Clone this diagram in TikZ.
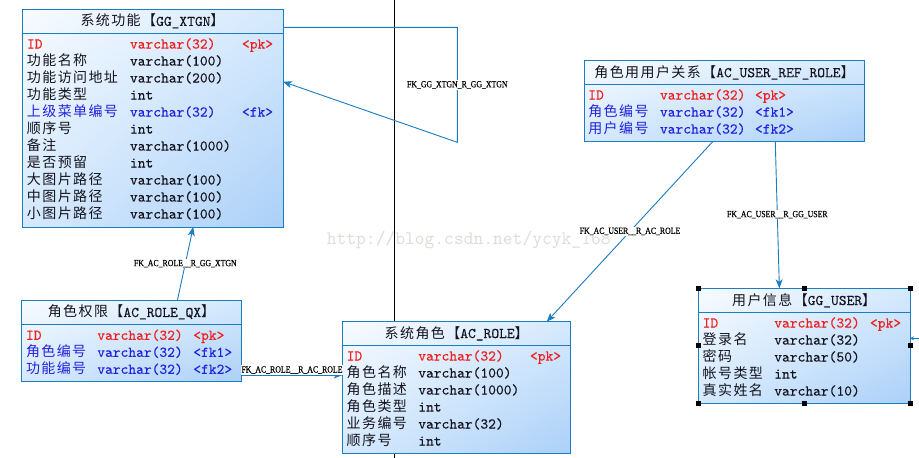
\documentclass[tikz,border=0pt]{standalone}
\usepackage{fontspec}
\newfontfamily\cjk[LetterSpace=10]{Noto Sans CJK SC}
\newfontfamily\lblfont[FakeBold=0.5]{Liberation Serif}
\newfontfamily\lmm[FakeBold=0.3]{lmmono10-regular.otf}
\usetikzlibrary{arrows.meta,calc,backgrounds,shadings}
\definecolor{bdr}{HTML}{1A7DC0}
\definecolor{shA}{HTML}{F7FBFF}
\definecolor{shB}{HTML}{D5E9FD}
\definecolor{shC}{HTML}{ABD0F8}
\definecolor{pkred}{HTML}{F01E1E}
\definecolor{fkblue}{HTML}{2222E0}
\definecolor{txt}{HTML}{14141E}
\definecolor{wmgray}{HTML}{DCDCD8}
\newcommand\mon{\fontsize{14.8}{17}\selectfont\lmm}
\newcommand\lbl[1]{\scalebox{1}[1.2]{#1}}
\tikzset{
  tablebox/.style={draw=bdr, line width=1pt, shade, upper left=shA, upper right=shB,
    lower left=shB, lower right=shC, anchor=north west, inner sep=0pt, outer sep=0pt},
  hdrline/.style={draw=bdr, line width=1pt},
  titletext/.style={inner sep=0pt, font=\fontsize{14}{16}\selectfont, text=txt},
  cell/.style={anchor=base west, inner sep=0pt, outer sep=0pt, font=\fontsize{14}{16}\selectfont},
  conn/.style={draw=bdr, line width=0.9pt, -{Stealth[length=9pt,width=7pt,inset=2.5pt]}},
  fklabel/.style={fill=white, inner sep=1pt, font=\lblfont\fontsize{7.8}{9}\selectfont, text=black},
  handle/.style={fill=black, minimum size=5pt, inner sep=0pt, outer sep=0pt},
  wmtext/.style={inner sep=0pt, font=\fontsize{19}{21}\selectfont\ttfamily, text=wmgray}
}
\newcommand\mktable[7]{%
  \node[tablebox, minimum width=#4pt, minimum height=#5pt] (#1) at (#2,#3) {};
  \draw[hdrline] ($(#1.north west)+(0,#6)$) -- ($(#1.north east)+(0,#6)$);
  \node[titletext] (#1T) at ($(#1.north)+(0,#6/2)$) {#7};
}
\newcommand\fld[6]{%
  \node[cell,text=#3] (#1n) at (\cxa,#2) {#4};
  \node[cell,text=#3] (#1t) at (\cxb,#2) {\mon #5};
  \node[cell,text=#3] (#1k) at (\cxc,#2) {\mon #6};
}
\begin{document}
\begin{tikzpicture}[x=1pt,y=-1pt]
\useasboundingbox (0,0) rectangle (919,458);

% ---------- tables ----------
\mktable{xtgn}{22}{9.5}{261}{217.5}{23.5}{{\cjk 系统功能【}{\mon GG\_XTGN}{\cjk 】}}
\def\cxa{27}\def\cxb{130}\def\cxc{242}
\fld{xtgn1}{48.5}{pkred}{{\mon ID}}{varchar(32)}{<pk>}
\fld{xtgn2}{65.5}{txt}{{\cjk 功能名称}}{varchar(100)}{}
\fld{xtgn3}{82.5}{txt}{{\cjk 功能访问地址}}{varchar(200)}{}
\fld{xtgn4}{99.5}{txt}{{\cjk 功能类型}}{int}{}
\fld{xtgn5}{116.5}{fkblue}{{\cjk 上级菜单编号}}{varchar(32)}{<fk>}
\fld{xtgn6}{133.5}{txt}{{\cjk 顺序号}}{int}{}
\fld{xtgn7}{150.5}{txt}{{\cjk 备注}}{varchar(1000)}{}
\fld{xtgn8}{167.5}{txt}{{\cjk 是否预留}}{int}{}
\fld{xtgn9}{184.5}{txt}{{\cjk 大图片路径}}{varchar(100)}{}
\fld{xtgn10}{201.5}{txt}{{\cjk 中图片路径}}{varchar(100)}{}
\fld{xtgn11}{218.5}{txt}{{\cjk 小图片路径}}{varchar(100)}{}

\mktable{ref}{584.3}{60.7}{280.4}{80.3}{23.6}{{\cjk 角色用用户关系【}{\mon AC\_USER\_REF\_ROLE}{\cjk 】}}
\def\cxa{588.3}\def\cxb{660}\def\cxc{755}
\fld{ref1}{99.5}{pkred}{{\mon ID}}{varchar(32)}{<pk>}
\fld{ref2}{116.5}{fkblue}{{\cjk 角色编号}}{varchar(32)}{<fk1>}
\fld{ref3}{133.5}{fkblue}{{\cjk 用户编号}}{varchar(32)}{<fk2>}

\mktable{qx}{21.7}{300.3}{219.6}{81}{24}{{\cjk 角色权限【}{\mon AC\_ROLE\_QX}{\cjk 】}}
\def\cxa{26}\def\cxb{97.3}\def\cxc{193.3}
\fld{qx1}{339.8}{pkred}{{\mon ID}}{varchar(32)}{<pk>}
\fld{qx2}{356.8}{fkblue}{{\cjk 角色编号}}{varchar(32)}{<fk1>}
\fld{qx3}{373.8}{fkblue}{{\cjk 功能编号}}{varchar(32)}{<fk2>}

\mktable{role}{342.7}{321.7}{228}{131.6}{23.3}{{\cjk 系统角色【}{\mon AC\_ROLE}{\cjk 】}}
\def\cxa{346.7}\def\cxb{418.3}\def\cxc{530}
\fld{role1}{360.5}{pkred}{{\mon ID}}{varchar(32)}{<pk>}
\fld{role2}{377.5}{txt}{{\cjk 角色名称}}{varchar(100)}{}
\fld{role3}{394.5}{txt}{{\cjk 角色描述}}{varchar(1000)}{}
\fld{role4}{411.5}{txt}{{\cjk 角色类型}}{int}{}
\fld{role5}{428.5}{txt}{{\cjk 业务编号}}{varchar(32)}{}
\fld{role6}{445.5}{txt}{{\cjk 顺序号}}{int}{}

\mktable{user}{698.3}{288.3}{211.7}{115}{24}{{\cjk 用户信息【}{\mon GG\_USER}{\cjk 】}}
\def\cxa{702.7}\def\cxb{774.3}\def\cxc{870}
\fld{user1}{327.5}{pkred}{{\mon ID}}{varchar(32)}{<pk>}
\fld{user2}{344.5}{txt}{{\cjk 登录名}}{varchar(32)}{}
\fld{user3}{361.5}{txt}{{\cjk 密码}}{varchar(50)}{}
\fld{user4}{378.5}{txt}{{\cjk 帐号类型}}{int}{}
\fld{user5}{395.5}{txt}{{\cjk 真实姓名}}{varchar(10)}{}

% selection handles
\foreach \a [count=\i] in {north west,north,north east,east,south east,south,south west,west}
  \node[handle] (h\i) at (user.\a) {};

% ---------- background ----------
\begin{scope}[on background layer]
  \fill[white] (0,0) rectangle (919,458);
  \node[wmtext] (wm) at (468.7,240) {http://blog.csdn.net/ycyk\_168};
  \draw[black, line width=1pt] (394.3,0) -- (394.3,458);
\end{scope}

% ---------- connectors ----------
\draw[conn] ($(xtgn.north east)+(0,17.8)$) -- ++(174.3,0) -- ++(0,115)
  node[fklabel,pos=0.5] (l1) {\lbl{FK\_GG\_XTGN\_R\_GG\_XTGN}}
  -- ($(xtgn.north east)+(0,72.2)$);
\draw[conn] ($(qx.north west)!0.709!(qx.north east)$) --
  node[fklabel] (l2) {\lbl{FK\_AC\_ROLE\_\_R\_GG\_XTGN}}
  ($(xtgn.south west)!0.656!(xtgn.south east)$);
\draw[conn] ($(qx.north east)+(0,74.7)$) --
  node[fklabel,yshift=5pt] (l3) {\lbl{FK\_AC\_ROLE\_\_R\_AC\_ROLE}}
  ($(role.north west)+(0,53.3)$);
\draw[conn] ($(ref.south west)!0.46!(ref.south east)$) --
  node[fklabel] (l4) {\lbl{FK\_AC\_USER\_\_R\_AC\_ROLE}}
  ($(role.north west)!0.895!(role.north east)$);
\draw[conn] ($(ref.south west)!0.681!(ref.south east)$) --
  node[fklabel] (l5) {\lbl{FK\_AC\_USER\_\_R\_GG\_USER}}
  ($(user.north west)!0.383!(user.north east)$);
\coordinate (stubend) at (919,338.3);
\draw[draw=bdr, line width=0.9pt, -{Stealth[length=4pt,width=4pt]}] (stubend) -- ($(user.north east)+(0,50)$);
\end{tikzpicture}
\end{document}
